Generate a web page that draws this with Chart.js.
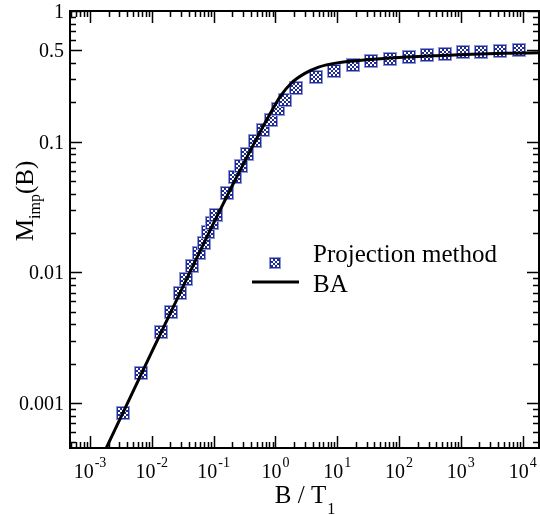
<!DOCTYPE html>
<html>
<head>
<meta charset="utf-8">
<script src="https://cdn.jsdelivr.net/npm/chart.js@4.4.0/dist/chart.umd.min.js"></script>
<style>
  html, body { margin: 0; padding: 0; background: #ffffff; }
  canvas { display: block; }
</style>
</head>
<body>
<canvas id="chart" width="540" height="515"></canvas>
<script>
// Impurity magnetization vs. field (B / T1), log-log
const projB = [0.00336, 0.0068, 0.0140, 0.0202, 0.0283, 0.0363, 0.0453, 0.057, 0.0688, 0.0816,
               0.0945, 0.110, 0.166, 0.224, 0.28, 0.35, 0.464, 0.624, 0.853, 1.09,
               1.45, 2.19, 4.5, 8.96, 17.7, 35, 70.7, 143, 285, 556,
               1100, 2140, 4250, 8650];
const projM = [0.00084, 0.0017, 0.00347, 0.00497, 0.0069, 0.00885, 0.0112, 0.0140, 0.0169, 0.0202,
               0.0238, 0.0274, 0.0406, 0.0534, 0.0647, 0.0805, 0.1005, 0.1235, 0.147, 0.179,
               0.209, 0.256, 0.310, 0.350, 0.387, 0.411, 0.430, 0.448, 0.460, 0.472,
               0.482, 0.488, 0.493, 0.502];

const baB = [0.001, 0.01, 0.05, 0.1, 0.2, 0.4, 0.6, 0.8, 1.2, 1.8,
             3, 5, 10, 30, 100, 400, 1500, 5000, 20000];
const baM = [0.000247, 0.00246, 0.0121, 0.0238, 0.046, 0.087, 0.125, 0.16, 0.222, 0.28,
             0.333, 0.372, 0.401, 0.424, 0.441, 0.455, 0.466, 0.474, 0.479];

const seriesNames = ['Projection method', 'BA'];

// axis ranges and labelled ticks
const xRange = [4.75e-4, 1.84e4];
const yRange = [4.53e-4, 1.0];
const xMajorTicks = [1e-3, 1e-2, 1e-1, 1, 10, 100, 1000, 10000];
const xTickExponents = ['-3', '-2', '-1', '0', '1', '2', '3', '4'];
const yMajorTicks = [1, 0.5, 0.1, 0.01, 0.001];
const yTickLabels = ['1', '0.5', '0.1', '0.01', '0.001'];

const SERIF = '"Liberation Serif", "Times New Roman", serif';
const BLUE = '#1f2c96';

// checkered square marker
function makeMarker(size) {
  const c = document.createElement('canvas');
  c.width = c.height = size;
  const g = c.getContext('2d');
  g.fillStyle = '#8f96d4';
  g.fillRect(0, 0, size, size);
  g.fillStyle = BLUE;
  g.fillRect(1, 1, size - 2, size - 2);
  const cell = 2;
  const n = Math.floor((size - 4) / cell);
  g.fillStyle = '#ffffff';
  for (let i = 0; i < n; i++) {
    for (let j = 0; j < n; j++) {
      if ((i + j) % 2 === 0) g.fillRect(2 + i * cell, 2 + j * cell, cell, cell);
    }
  }
  return c;
}
const marker = makeMarker(14);
const legendMarker = makeMarker(12);

function minorTicks(range, majors) {
  const out = [];
  const k0 = Math.floor(Math.log10(range[0]));
  const k1 = Math.ceil(Math.log10(range[1]));
  for (let k = k0; k <= k1; k++) {
    for (let m = 1; m <= 9; m++) {
      const v = m * Math.pow(10, k);
      if (v < range[0] * 0.999 || v > range[1] * 1.001) continue;
      if (majors.some(t => Math.abs(t - v) / v < 1e-6)) continue;
      out.push(v);
    }
  }
  return out;
}

// keep the checkered markers crisp
const crispPlugin = {
  id: 'crisp',
  beforeDatasetsDraw(chart) { chart.ctx.imageSmoothingEnabled = false; },
  afterDatasetsDraw(chart) { chart.ctx.imageSmoothingEnabled = true; }
};

const framePlugin = {
  id: 'frame',
  afterDatasetsDraw(chart) {
    const ctx = chart.ctx;
    const { left, right, top, bottom } = chart.chartArea;
    const xs = chart.scales.x, ys = chart.scales.y;
    ctx.save();

    // ticks, pointing inward on all four sides
    ctx.strokeStyle = '#000';
    ctx.lineWidth = 1.5;
    const major = 12, minor = 6;
    const xMinor = minorTicks(xRange, xMajorTicks);
    const yMinor = minorTicks(yRange, yMajorTicks);
    ctx.beginPath();
    xMajorTicks.forEach(v => {
      const p = Math.round(xs.getPixelForValue(v)) + 0.5;
      ctx.moveTo(p, bottom); ctx.lineTo(p, bottom - major);
      ctx.moveTo(p, top); ctx.lineTo(p, top + major);
    });
    xMinor.forEach(v => {
      const p = Math.round(xs.getPixelForValue(v)) + 0.5;
      ctx.moveTo(p, bottom); ctx.lineTo(p, bottom - minor);
      ctx.moveTo(p, top); ctx.lineTo(p, top + minor);
    });
    yMajorTicks.forEach(v => {
      const p = Math.round(ys.getPixelForValue(v)) + 0.5;
      ctx.moveTo(left, p); ctx.lineTo(left + major, p);
      ctx.moveTo(right, p); ctx.lineTo(right - major, p);
    });
    yMinor.forEach(v => {
      const p = Math.round(ys.getPixelForValue(v)) + 0.5;
      ctx.moveTo(left, p); ctx.lineTo(left + minor, p);
      ctx.moveTo(right, p); ctx.lineTo(right - minor, p);
    });
    ctx.stroke();

    // frame
    ctx.lineWidth = 2;
    ctx.strokeRect(left, top, right - left, bottom - top);

    ctx.fillStyle = '#000';
    ctx.textBaseline = 'alphabetic';

    // x tick labels: 10^k
    xMajorTicks.forEach((v, i) => {
      const p = xs.getPixelForValue(v);
      ctx.font = '20px ' + SERIF;
      const wBase = ctx.measureText('10').width;
      ctx.font = '14px ' + SERIF;
      const wExp = ctx.measureText(xTickExponents[i]).width;
      const start = p - (wBase + 1 + wExp) / 2;
      ctx.font = '20px ' + SERIF;
      ctx.textAlign = 'left';
      ctx.fillText('10', start, bottom + 30);
      ctx.font = '14px ' + SERIF;
      ctx.fillText(xTickExponents[i], start + wBase + 1, bottom + 19);
    });

    // y tick labels
    ctx.font = '20px ' + SERIF;
    ctx.textAlign = 'right';
    yMajorTicks.forEach((v, i) => {
      const p = ys.getPixelForValue(v);
      ctx.fillText(yTickLabels[i], left - 6, p + 7);
    });

    // x axis title: B / T1
    ctx.textAlign = 'left';
    ctx.font = '25px ' + SERIF;
    const wMain = ctx.measureText('B / T').width;
    ctx.font = '16px ' + SERIF;
    const wSub = ctx.measureText('1').width;
    let sx = (left + right) / 2 - (wMain + wSub) / 2;
    ctx.font = '25px ' + SERIF;
    ctx.fillText('B / T', sx, bottom + 55);
    ctx.font = '16px ' + SERIF;
    ctx.fillText('1', sx + wMain + 1, bottom + 66);

    // y axis title: M_imp(B)
    ctx.save();
    ctx.translate(33, top + 190);
    ctx.rotate(-Math.PI / 2);
    ctx.font = '25px ' + SERIF;
    const wM = ctx.measureText('M').width;
    const wB = ctx.measureText('(B)').width;
    ctx.font = '16px ' + SERIF;
    const wImp = ctx.measureText('imp').width;
    let tx = -(wM + wImp + wB) / 2;
    ctx.font = '25px ' + SERIF;
    ctx.fillText('M', tx, 0);
    ctx.font = '16px ' + SERIF;
    ctx.fillText('imp', tx + wM, 7);
    ctx.font = '25px ' + SERIF;
    ctx.fillText('(B)', tx + wM + wImp, 0);
    ctx.restore();

    // legend
    ctx.drawImage(legendMarker, 269, 257);
    ctx.font = '25px ' + SERIF;
    ctx.textAlign = 'left';
    ctx.fillText(seriesNames[0], 313, 262);
    ctx.beginPath();
    ctx.lineWidth = 3;
    ctx.moveTo(252, 282);
    ctx.lineTo(299, 282);
    ctx.stroke();
    ctx.fillText(seriesNames[1], 313, 292);

    ctx.restore();
  }
};

new Chart(document.getElementById('chart'), {
  type: 'scatter',
  data: {
    datasets: [
      {
        type: 'line',
        label: seriesNames[1],
        data: baB.map((b, i) => ({ x: b, y: baM[i] })),
        borderColor: '#000000',
        borderWidth: 3,
        pointRadius: 0,
        fill: false,
        cubicInterpolationMode: 'monotone',
        order: 0
      },
      {
        label: seriesNames[0],
        data: projB.map((b, i) => ({ x: b, y: projM[i] })),
        pointStyle: marker,
        pointRadius: 7,
        order: 1
      }
    ]
  },
  options: {
    responsive: false,
    animation: false,
    devicePixelRatio: 1,
    layout: { padding: { left: 70, top: 11, right: 1, bottom: 67 }, autoPadding: false },
    plugins: { legend: { display: false }, tooltip: { enabled: false } },
    scales: {
      x: { type: 'logarithmic', min: xRange[0], max: xRange[1], bounds: 'data', display: false },
      y: { type: 'logarithmic', min: yRange[0], max: yRange[1], bounds: 'data', display: false }
    }
  },
  plugins: [crispPlugin, framePlugin]
});
</script>
</body>
</html>
